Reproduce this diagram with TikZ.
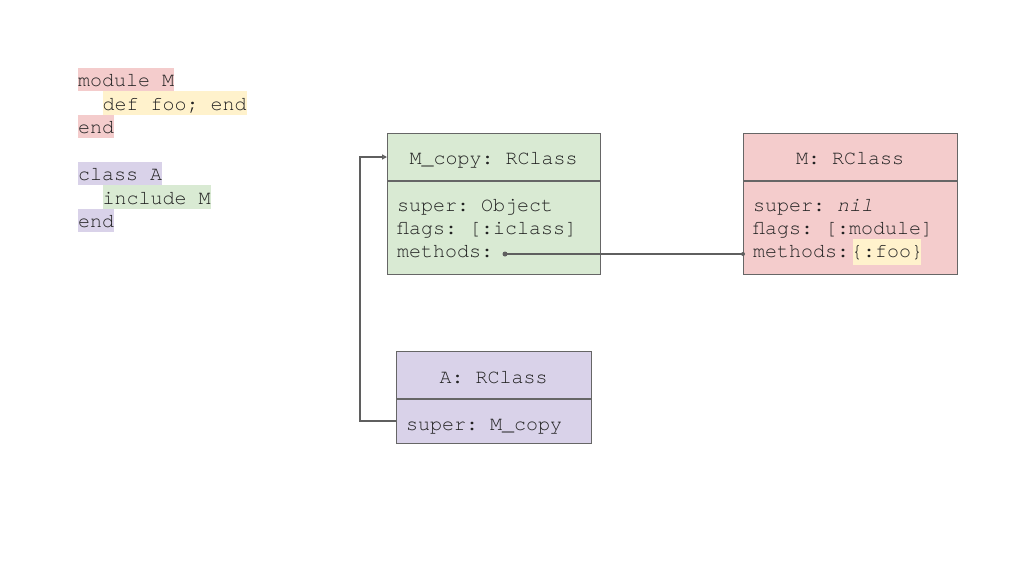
\documentclass[tikz,border=0pt]{standalone}
\usepackage{fontspec}
\setmonofont{TeX Gyre Cursor}
\usetikzlibrary{arrows.meta}
\definecolor{cred}{HTML}{F4CCCC}
\definecolor{cyel}{HTML}{FFF2CC}
\definecolor{cpur}{HTML}{D9D2E9}
\definecolor{cgrn}{HTML}{D9EAD3}
\definecolor{bord}{HTML}{666666}
\definecolor{txt}{HTML}{222222}
\definecolor{conncol}{HTML}{5F5F5F}
\begin{document}
\begin{tikzpicture}[x=1pt,y=-1pt,
  every node/.style={font=\fontsize{20}{23.5}\selectfont\ttfamily, text=txt},
  codeline/.style={anchor=base west, inner xsep=0pt, inner ysep=0pt, text height=19pt, text depth=4.5pt},
  classbox/.style={draw=bord, line width=1.2pt, anchor=north west, inner sep=0pt},
  divline/.style={draw=bord, line width=1.2pt},
  title/.style={anchor=base},
  field/.style={anchor=base west, inner sep=0pt},
  conn/.style={draw=conncol, line width=1.3pt},
  dotend/.style={circle, fill=conncol, inner sep=0pt, minimum size=5pt}
]
\useasboundingbox (0,0) rectangle (1024,576);

% code listing
\node[codeline, fill=cred] (c1) at (78,86.5) {module M};
\node[codeline, fill=cyel] (c2) at (102.4,110) {def foo; end};
\node[codeline, fill=cred] (c3) at (78,133.5) {end};
\node[codeline, fill=cpur] (c4) at (78,180.5) {class A};
\node[codeline, fill=cgrn] (c5) at (102.4,204) {include M};
\node[codeline, fill=cpur] (c6) at (78,227.5) {end};

% M_copy box
\node[classbox, fill=cgrn, minimum width=213pt, minimum height=141pt] (Mc) at (387,133) {};
\draw[divline] (Mc.west |- 0,181) -- (Mc.east |- 0,181);
\node[title] (Mctitle) at (493.5,164) {M\_copy: RClass};
\node[field] (Mcsuper) at (397,211) {super: Object};
\node[field] (Mcflags) at (397,234) {flags: [:iclass]};
\node[field] (Mcmeth) at (397,257) {methods:};

% M box
\node[classbox, fill=cred, minimum width=214pt, minimum height=141pt] (M) at (743,133) {};
\draw[divline] (M.west |- 0,181) -- (M.east |- 0,181);
\node[title] (Mtitle) at (850,164) {M: RClass};
\node[field] (Msuper) at (753,211) {super: \textit{nil}};
\node[field] (Mflags) at (753,234) {flags: [:module]};
\node[field] (Mmeth) at (753,257) {methods:};
\node[fill=cyel, inner xsep=-2pt, inner ysep=3.5pt, text height=15pt, text depth=4pt, anchor=base west] (Mfoo) at (853,257) {\{:foo\}};

% A box
\node[classbox, fill=cpur, minimum width=195pt, minimum height=92pt] (A) at (396,351) {};
\draw[divline] (A.west |- 0,399) -- (A.east |- 0,399);
\node[title] (Atitle) at (493.5,383.5) {A: RClass};
\node[field] (Asuper) at (406,430.5) {super: M\_copy};

% connectors
\coordinate (Asup) at (0,421);
\coordinate (Mcin) at (0,157);
\coordinate (dot1) at (505,254);
\node[dotend] (d1) at (dot1) {};
\node[dotend, minimum size=4pt] (d2) at (M.west |- dot1) {};
\draw[conn] (d1.center) -- (d2.center);
\draw[conn, -{Triangle[open, length=5pt, width=5pt]}] (A.west |- Asup) -- ++(-36,0) |- (Mc.west |- Mcin);
\end{tikzpicture}
\end{document}
